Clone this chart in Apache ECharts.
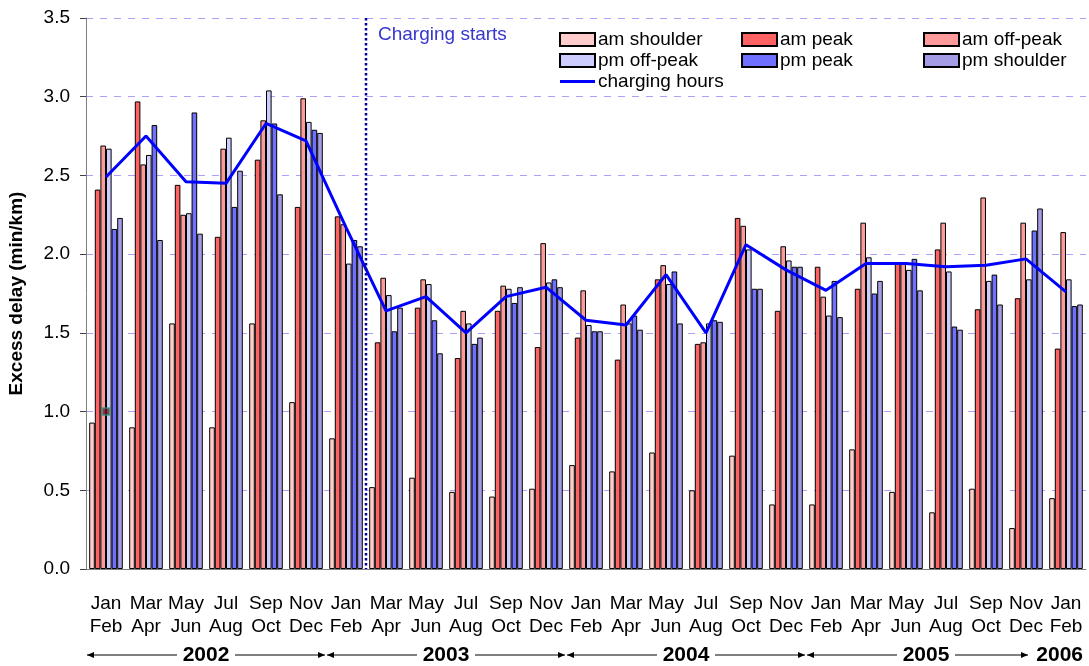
<!DOCTYPE html>
<html>
<head>
<meta charset="utf-8">
<script src="https://cdn.jsdelivr.net/npm/echarts@6/dist/echarts.min.js"></script>
<style>
  html, body { margin: 0; padding: 0; background: #fff; }
  #chart { width: 1089px; height: 666px; }
</style>
</head>
<body>
<div id="chart"></div>
<script>
// bi-monthly periods, Jan 2002 .. Feb 2006
const periods = [
  'Jan\nFeb', 'Mar\nApr', 'May\nJun', 'Jul\nAug', 'Sep\nOct', 'Nov\nDec',
  'Jan\nFeb', 'Mar\nApr', 'May\nJun', 'Jul\nAug', 'Sep\nOct', 'Nov\nDec',
  'Jan\nFeb', 'Mar\nApr', 'May\nJun', 'Jul\nAug', 'Sep\nOct', 'Nov\nDec',
  'Jan\nFeb', 'Mar\nApr', 'May\nJun', 'Jul\nAug', 'Sep\nOct', 'Nov\nDec',
  'Jan\nFeb'
];
const years = ['2002', '2003', '2004', '2005', '2006'];
const yearSpans = [6, 6, 6, 6, 1];

const amShoulder = [0.93, 0.90, 1.56, 0.90, 1.56, 1.06, 0.83, 0.52, 0.58, 0.49, 0.46, 0.51, 0.66, 0.62, 0.74, 0.50, 0.72, 0.41, 0.41, 0.76, 0.49, 0.36, 0.51, 0.26, 0.45];
const amPeak     = [2.41, 2.97, 2.44, 2.11, 2.60, 2.30, 2.24, 1.44, 1.66, 1.34, 1.64, 1.41, 1.47, 1.33, 1.84, 1.43, 2.23, 1.64, 1.92, 1.78, 1.94, 2.03, 1.65, 1.72, 1.40];
const amOffPeak  = [2.69, 2.57, 2.25, 2.67, 2.85, 2.99, 2.19, 1.85, 1.84, 1.64, 1.80, 2.07, 1.77, 1.68, 1.93, 1.44, 2.18, 2.05, 1.73, 2.20, 1.95, 2.20, 2.36, 2.20, 2.14];
const pmOffPeak  = [2.67, 2.63, 2.26, 2.74, 3.04, 2.84, 1.94, 1.74, 1.81, 1.56, 1.78, 1.82, 1.55, 1.56, 1.81, 1.56, 2.03, 1.96, 1.61, 1.98, 1.90, 1.89, 1.83, 1.84, 1.84];
const pmPeak     = [2.16, 2.82, 2.90, 2.30, 2.83, 2.79, 2.09, 1.51, 1.58, 1.43, 1.69, 1.84, 1.51, 1.61, 1.89, 1.58, 1.78, 1.92, 1.83, 1.75, 1.97, 1.54, 1.87, 2.15, 1.67];
const pmShoulder = [2.23, 2.09, 2.13, 2.53, 2.38, 2.77, 2.05, 1.66, 1.37, 1.47, 1.79, 1.79, 1.51, 1.52, 1.56, 1.57, 1.78, 1.92, 1.60, 1.83, 1.77, 1.52, 1.68, 2.29, 1.68];
const chargingHours = [2.49, 2.75, 2.46, 2.45, 2.83, 2.72, 2.17, 1.64, 1.73, 1.50, 1.73, 1.79, 1.58, 1.55, 1.87, 1.50, 2.06, 1.90, 1.77, 1.94, 1.94, 1.92, 1.93, 1.97, 1.76];
// stray marker in the original at Jan/Feb 2002
const strayMarker = [[0, 1.0]];

const chargingStartIndex = 7; // line drawn before Mar/Apr 2003

const FONT = 'Liberation Sans, Arial, sans-serif';

const barSeries = [
  { name: 'am shoulder', data: amShoulder, color: '#ffcccc' },
  { name: 'am peak', data: amPeak, color: '#ff6262' },
  { name: 'am off-peak', data: amOffPeak, color: '#ff9a9a' },
  { name: 'pm off-peak', data: pmOffPeak, color: '#ccccff' },
  { name: 'pm peak', data: pmPeak, color: '#7070ff' },
  { name: 'pm shoulder', data: pmShoulder, color: '#a49de6' }
];

const chart = echarts.init(document.getElementById('chart'));

function legendBlock(left, names) {
  return {
    orient: 'vertical',
    left: left,
    top: 30,
    padding: 0,
    itemWidth: 35,
    itemHeight: 13,
    itemGap: 2,
    textStyle: { fontFamily: FONT, fontSize: 19, color: '#000', padding: [0, 0, 0, -2] },
    data: names.map(n => n === 'charging hours'
      ? { name: n, icon: 'path://M0,0 H35 V3 H0 Z', itemStyle: { color: '#0000ff', borderWidth: 0 } }
      : { name: n, icon: 'rect' })
  };
}

const option = {
  backgroundColor: '#fff',
  animation: false,
  grid: { left: 86, right: 3, top: 18, bottom: 97, outerBoundsMode: 'none' },
  legend: [
    legendBlock(559, ['am shoulder', 'pm off-peak', 'charging hours']),
    legendBlock(741, ['am peak', 'pm peak']),
    legendBlock(923, ['am off-peak', 'pm shoulder'])
  ],
  xAxis: {
    type: 'category',
    data: periods,
    axisLine: { lineStyle: { color: '#808080', width: 1 } },
    axisTick: { length: 6, lineStyle: { color: '#404040' } },
    axisLabel: {
      interval: 0,
      margin: 23,
      fontFamily: FONT,
      fontSize: 19,
      lineHeight: 23,
      color: '#000'
    }
  },
  yAxis: {
    type: 'value',
    min: 0,
    max: 3.5,
    interval: 0.5,
    name: 'Excess delay (min/km)',
    nameLocation: 'middle',
    nameGap: 60,
    nameTextStyle: { fontFamily: FONT, fontSize: 19, fontWeight: 'bold', color: '#000' },
    axisLine: { show: true, lineStyle: { color: '#808080' } },
    axisTick: { show: true, length: 6, lineStyle: { color: '#404040' } },
    axisLabel: {
      fontFamily: FONT,
      fontSize: 19,
      color: '#000',
      margin: 16,
      formatter: v => v.toFixed(1)
    },
    splitLine: { lineStyle: { color: '#b39dfa', type: [7, 7], width: 1 } }
  },
  series: barSeries.map(s => ({
    name: s.name,
    type: 'bar',
    data: s.data,
    barGap: '0%',
    barCategoryGap: '16%',
    itemStyle: { color: s.color, borderColor: '#000', borderWidth: 1 }
  })).concat([
    {
      name: 'charging hours',
      type: 'line',
      data: chargingHours,
      symbol: 'none',
      z: 5,
      lineStyle: { color: '#0000ff', width: 3 },
      itemStyle: { color: '#0000ff' }
    },
    {
      name: 'stray',
      type: 'scatter',
      data: strayMarker,
      symbol: 'rect',
      symbolSize: 7,
      z: 6,
      itemStyle: { color: '#7a1020', borderColor: '#2a9a8a', borderWidth: 1.5 }
    }
  ])
};

chart.setOption(option);

// annotations: charging-start line and year arrows under the axis
function drawAnnotations() {
  const x0 = chart.convertToPixel({ xAxisIndex: 0 }, 0);
  const x1 = chart.convertToPixel({ xAxisIndex: 0 }, 1);
  const band = x1 - x0;
  const edge = i => x0 - band / 2 + i * band;
  const yTop = chart.convertToPixel({ yAxisIndex: 0 }, 3.5);
  const yBot = chart.convertToPixel({ yAxisIndex: 0 }, 0);

  const g = [];
  const cx = edge(chargingStartIndex);
  g.push({
    type: 'line',
    shape: { x1: cx, y1: yTop, x2: cx, y2: yBot },
    style: { stroke: '#00009a', lineWidth: 2.5, lineDash: [2.5, 2.5] },
    z: 10
  });
  g.push({
    type: 'text',
    x: cx + 12,
    y: yTop + 17,
    style: { text: 'Charging starts', fill: '#3636d0', font: '19px ' + FONT, textVerticalAlign: 'middle' },
    z: 10
  });

  const ay = 655;
  const arrowHead = (x, dir) => ({
    type: 'polygon',
    shape: { points: [[x, ay], [x - dir * 7, ay - 3], [x - dir * 7, ay + 3]] },
    style: { fill: '#000' }
  });
  let start = 0;
  years.forEach((yr, k) => {
    const span = yearSpans[k];
    const left = edge(start) + 1;
    const right = edge(start + span) - 1;
    const mid = (left + right) / 2;
    g.push({
      type: 'text',
      x: span > 1 ? mid : right - 2,
      y: ay,
      style: {
        text: yr, fill: '#000', font: 'bold 21px ' + FONT,
        textAlign: span > 1 ? 'center' : 'right', textVerticalAlign: 'middle'
      },
      z: 11
    });
    if (span > 1) {
      const half = 29;
      let r = right;
      if (k + 1 < years.length && yearSpans[k + 1] === 1) {
        // last arrow stops just before the single-period year label
        r = edge(start + span + 1) - 58;
      }
      g.push({ type: 'line', shape: { x1: left, y1: ay, x2: mid - half, y2: ay }, style: { stroke: '#000', lineWidth: 1 } });
      g.push({ type: 'line', shape: { x1: mid + half, y1: ay, x2: r, y2: ay }, style: { stroke: '#000', lineWidth: 1 } });
      g.push(arrowHead(left, -1));
      g.push(arrowHead(r, 1));
    }
    start += span;
  });

  chart.setOption({ graphic: g });
}

drawAnnotations();
window.addEventListener('resize', () => { chart.resize(); drawAnnotations(); });
</script>
</body>
</html>
